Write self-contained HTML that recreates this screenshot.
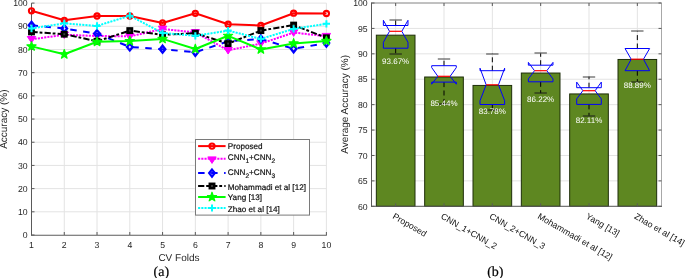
<!DOCTYPE html>
<html><head><meta charset="utf-8"><style>
html,body{margin:0;padding:0;background:#fff;width:685px;height:278px;overflow:hidden}
svg{display:block;will-change:transform}
text{font-family:"Liberation Sans", sans-serif;text-rendering:geometricPrecision;stroke-width:0.2px}
</style></head><body>
<svg width="685" height="278" viewBox="0 0 685 278">
<line x1="31.50" y1="3.1" x2="31.50" y2="235.0" stroke="#e3e3e3" stroke-width="1"/>
<line x1="64.27" y1="3.1" x2="64.27" y2="235.0" stroke="#e3e3e3" stroke-width="1"/>
<line x1="97.03" y1="3.1" x2="97.03" y2="235.0" stroke="#e3e3e3" stroke-width="1"/>
<line x1="129.80" y1="3.1" x2="129.80" y2="235.0" stroke="#e3e3e3" stroke-width="1"/>
<line x1="162.57" y1="3.1" x2="162.57" y2="235.0" stroke="#e3e3e3" stroke-width="1"/>
<line x1="195.33" y1="3.1" x2="195.33" y2="235.0" stroke="#e3e3e3" stroke-width="1"/>
<line x1="228.10" y1="3.1" x2="228.10" y2="235.0" stroke="#e3e3e3" stroke-width="1"/>
<line x1="260.87" y1="3.1" x2="260.87" y2="235.0" stroke="#e3e3e3" stroke-width="1"/>
<line x1="293.63" y1="3.1" x2="293.63" y2="235.0" stroke="#e3e3e3" stroke-width="1"/>
<line x1="326.40" y1="3.1" x2="326.40" y2="235.0" stroke="#e3e3e3" stroke-width="1"/>
<line x1="31.5" y1="235.00" x2="326.4" y2="235.00" stroke="#e3e3e3" stroke-width="1"/>
<line x1="31.5" y1="211.81" x2="326.4" y2="211.81" stroke="#e3e3e3" stroke-width="1"/>
<line x1="31.5" y1="188.62" x2="326.4" y2="188.62" stroke="#e3e3e3" stroke-width="1"/>
<line x1="31.5" y1="165.43" x2="326.4" y2="165.43" stroke="#e3e3e3" stroke-width="1"/>
<line x1="31.5" y1="142.24" x2="326.4" y2="142.24" stroke="#e3e3e3" stroke-width="1"/>
<line x1="31.5" y1="119.05" x2="326.4" y2="119.05" stroke="#e3e3e3" stroke-width="1"/>
<line x1="31.5" y1="95.86" x2="326.4" y2="95.86" stroke="#e3e3e3" stroke-width="1"/>
<line x1="31.5" y1="72.67" x2="326.4" y2="72.67" stroke="#e3e3e3" stroke-width="1"/>
<line x1="31.5" y1="49.48" x2="326.4" y2="49.48" stroke="#e3e3e3" stroke-width="1"/>
<line x1="31.5" y1="26.29" x2="326.4" y2="26.29" stroke="#e3e3e3" stroke-width="1"/>
<line x1="31.5" y1="3.10" x2="326.4" y2="3.10" stroke="#e3e3e3" stroke-width="1"/>
<line x1="31.5" y1="3.1" x2="31.5" y2="235.5" stroke="#5a5a5a" stroke-width="1"/>
<line x1="31.0" y1="235.3" x2="326.9" y2="235.3" stroke="#6a6a6a" stroke-width="1"/>
<line x1="31.5" y1="235.00" x2="34.5" y2="235.00" stroke="#5a5a5a" stroke-width="1"/>
<text x="27.7" y="238.20" text-anchor="end" font-size="8.7" fill="#262626">0</text>
<line x1="31.5" y1="211.81" x2="34.5" y2="211.81" stroke="#5a5a5a" stroke-width="1"/>
<text x="27.7" y="215.01" text-anchor="end" font-size="8.7" fill="#262626">10</text>
<line x1="31.5" y1="188.62" x2="34.5" y2="188.62" stroke="#5a5a5a" stroke-width="1"/>
<text x="27.7" y="191.82" text-anchor="end" font-size="8.7" fill="#262626">20</text>
<line x1="31.5" y1="165.43" x2="34.5" y2="165.43" stroke="#5a5a5a" stroke-width="1"/>
<text x="27.7" y="168.63" text-anchor="end" font-size="8.7" fill="#262626">30</text>
<line x1="31.5" y1="142.24" x2="34.5" y2="142.24" stroke="#5a5a5a" stroke-width="1"/>
<text x="27.7" y="145.44" text-anchor="end" font-size="8.7" fill="#262626">40</text>
<line x1="31.5" y1="119.05" x2="34.5" y2="119.05" stroke="#5a5a5a" stroke-width="1"/>
<text x="27.7" y="122.25" text-anchor="end" font-size="8.7" fill="#262626">50</text>
<line x1="31.5" y1="95.86" x2="34.5" y2="95.86" stroke="#5a5a5a" stroke-width="1"/>
<text x="27.7" y="99.06" text-anchor="end" font-size="8.7" fill="#262626">60</text>
<line x1="31.5" y1="72.67" x2="34.5" y2="72.67" stroke="#5a5a5a" stroke-width="1"/>
<text x="27.7" y="75.87" text-anchor="end" font-size="8.7" fill="#262626">70</text>
<line x1="31.5" y1="49.48" x2="34.5" y2="49.48" stroke="#5a5a5a" stroke-width="1"/>
<text x="27.7" y="52.68" text-anchor="end" font-size="8.7" fill="#262626">80</text>
<line x1="31.5" y1="26.29" x2="34.5" y2="26.29" stroke="#5a5a5a" stroke-width="1"/>
<text x="27.7" y="29.49" text-anchor="end" font-size="8.7" fill="#262626">90</text>
<line x1="31.5" y1="3.10" x2="34.5" y2="3.10" stroke="#5a5a5a" stroke-width="1"/>
<text x="27.7" y="6.30" text-anchor="end" font-size="8.7" fill="#262626">100</text>
<line x1="31.50" y1="235.0" x2="31.50" y2="232.0" stroke="#5a5a5a" stroke-width="1"/>
<text x="31.50" y="247.7" text-anchor="middle" font-size="8.7" fill="#262626">1</text>
<line x1="64.27" y1="235.0" x2="64.27" y2="232.0" stroke="#5a5a5a" stroke-width="1"/>
<text x="64.27" y="247.7" text-anchor="middle" font-size="8.7" fill="#262626">2</text>
<line x1="97.03" y1="235.0" x2="97.03" y2="232.0" stroke="#5a5a5a" stroke-width="1"/>
<text x="97.03" y="247.7" text-anchor="middle" font-size="8.7" fill="#262626">3</text>
<line x1="129.80" y1="235.0" x2="129.80" y2="232.0" stroke="#5a5a5a" stroke-width="1"/>
<text x="129.80" y="247.7" text-anchor="middle" font-size="8.7" fill="#262626">4</text>
<line x1="162.57" y1="235.0" x2="162.57" y2="232.0" stroke="#5a5a5a" stroke-width="1"/>
<text x="162.57" y="247.7" text-anchor="middle" font-size="8.7" fill="#262626">5</text>
<line x1="195.33" y1="235.0" x2="195.33" y2="232.0" stroke="#5a5a5a" stroke-width="1"/>
<text x="195.33" y="247.7" text-anchor="middle" font-size="8.7" fill="#262626">6</text>
<line x1="228.10" y1="235.0" x2="228.10" y2="232.0" stroke="#5a5a5a" stroke-width="1"/>
<text x="228.10" y="247.7" text-anchor="middle" font-size="8.7" fill="#262626">7</text>
<line x1="260.87" y1="235.0" x2="260.87" y2="232.0" stroke="#5a5a5a" stroke-width="1"/>
<text x="260.87" y="247.7" text-anchor="middle" font-size="8.7" fill="#262626">8</text>
<line x1="293.63" y1="235.0" x2="293.63" y2="232.0" stroke="#5a5a5a" stroke-width="1"/>
<text x="293.63" y="247.7" text-anchor="middle" font-size="8.7" fill="#262626">9</text>
<line x1="326.40" y1="235.0" x2="326.40" y2="232.0" stroke="#5a5a5a" stroke-width="1"/>
<text x="326.40" y="247.7" text-anchor="middle" font-size="8.7" fill="#262626">10</text>
<text x="178.95" y="261.3" text-anchor="middle" font-size="10" fill="#262626">CV Folds</text>
<text transform="translate(7.3,119.15) rotate(-90)" text-anchor="middle" font-size="10" fill="#262626">Accuracy (%)</text>
<text x="161.3" y="275.8" text-anchor="middle" style="font-family:'Liberation Serif', serif" font-size="14" fill="#000" stroke="#000">(a)</text>
<g>
<polyline points="31.50,10.80 64.27,20.30 97.03,16.00 129.80,16.00 162.57,23.00 195.33,13.30 228.10,24.20 260.87,25.50 293.63,13.20 326.40,13.50" fill="none" stroke="#ff0000" stroke-width="2" stroke-linejoin="round"/>
<circle cx="31.50" cy="10.80" r="2.6" fill="none" stroke="#ff0000" stroke-width="2.1"/>
<circle cx="64.27" cy="20.30" r="2.6" fill="none" stroke="#ff0000" stroke-width="2.1"/>
<circle cx="97.03" cy="16.00" r="2.6" fill="none" stroke="#ff0000" stroke-width="2.1"/>
<circle cx="129.80" cy="16.00" r="2.6" fill="none" stroke="#ff0000" stroke-width="2.1"/>
<circle cx="162.57" cy="23.00" r="2.6" fill="none" stroke="#ff0000" stroke-width="2.1"/>
<circle cx="195.33" cy="13.30" r="2.6" fill="none" stroke="#ff0000" stroke-width="2.1"/>
<circle cx="228.10" cy="24.20" r="2.6" fill="none" stroke="#ff0000" stroke-width="2.1"/>
<circle cx="260.87" cy="25.50" r="2.6" fill="none" stroke="#ff0000" stroke-width="2.1"/>
<circle cx="293.63" cy="13.20" r="2.6" fill="none" stroke="#ff0000" stroke-width="2.1"/>
<circle cx="326.40" cy="13.50" r="2.6" fill="none" stroke="#ff0000" stroke-width="2.1"/>
<polyline points="31.50,39.30 64.27,34.80 97.03,36.00 129.80,36.40 162.57,29.00 195.33,32.40 228.10,50.30 260.87,43.60 293.63,32.60 326.40,36.20" fill="none" stroke="#ff00ff" stroke-width="2" stroke-dasharray="2.1 1.1" stroke-linejoin="round"/>
<path d="M27.30,36.50 L35.70,36.50 L31.50,43.00Z" fill="#ff00ff" stroke="#ff00ff" stroke-width="1" stroke-linejoin="round"/>
<path d="M60.07,32.00 L68.47,32.00 L64.27,38.50Z" fill="#ff00ff" stroke="#ff00ff" stroke-width="1" stroke-linejoin="round"/>
<path d="M92.83,33.20 L101.23,33.20 L97.03,39.70Z" fill="#ff00ff" stroke="#ff00ff" stroke-width="1" stroke-linejoin="round"/>
<path d="M125.60,33.60 L134.00,33.60 L129.80,40.10Z" fill="#ff00ff" stroke="#ff00ff" stroke-width="1" stroke-linejoin="round"/>
<path d="M158.37,26.20 L166.77,26.20 L162.57,32.70Z" fill="#ff00ff" stroke="#ff00ff" stroke-width="1" stroke-linejoin="round"/>
<path d="M191.13,29.60 L199.53,29.60 L195.33,36.10Z" fill="#ff00ff" stroke="#ff00ff" stroke-width="1" stroke-linejoin="round"/>
<path d="M223.90,47.50 L232.30,47.50 L228.10,54.00Z" fill="#ff00ff" stroke="#ff00ff" stroke-width="1" stroke-linejoin="round"/>
<path d="M256.67,40.80 L265.07,40.80 L260.87,47.30Z" fill="#ff00ff" stroke="#ff00ff" stroke-width="1" stroke-linejoin="round"/>
<path d="M289.43,29.80 L297.83,29.80 L293.63,36.30Z" fill="#ff00ff" stroke="#ff00ff" stroke-width="1" stroke-linejoin="round"/>
<path d="M322.20,33.40 L330.60,33.40 L326.40,39.90Z" fill="#ff00ff" stroke="#ff00ff" stroke-width="1" stroke-linejoin="round"/>
<polyline points="31.50,25.30 64.27,28.50 97.03,33.60 129.80,47.00 162.57,49.20 195.33,52.30 228.10,41.30 260.87,38.90 293.63,48.80 326.40,43.10" fill="none" stroke="#0000ff" stroke-width="2" stroke-dasharray="6.5 6.5" stroke-linejoin="round"/>
<path d="M31.50,21.80 L34.30,25.30 L31.50,28.80 L28.70,25.30Z" fill="none" stroke="#0000ff" stroke-width="2.3"/>
<path d="M64.27,25.00 L67.07,28.50 L64.27,32.00 L61.47,28.50Z" fill="none" stroke="#0000ff" stroke-width="2.3"/>
<path d="M97.03,30.10 L99.83,33.60 L97.03,37.10 L94.23,33.60Z" fill="none" stroke="#0000ff" stroke-width="2.3"/>
<path d="M129.80,43.50 L132.60,47.00 L129.80,50.50 L127.00,47.00Z" fill="none" stroke="#0000ff" stroke-width="2.3"/>
<path d="M162.57,45.70 L165.37,49.20 L162.57,52.70 L159.77,49.20Z" fill="none" stroke="#0000ff" stroke-width="2.3"/>
<path d="M195.33,48.80 L198.13,52.30 L195.33,55.80 L192.53,52.30Z" fill="none" stroke="#0000ff" stroke-width="2.3"/>
<path d="M228.10,37.80 L230.90,41.30 L228.10,44.80 L225.30,41.30Z" fill="none" stroke="#0000ff" stroke-width="2.3"/>
<path d="M260.87,35.40 L263.67,38.90 L260.87,42.40 L258.07,38.90Z" fill="none" stroke="#0000ff" stroke-width="2.3"/>
<path d="M293.63,45.30 L296.43,48.80 L293.63,52.30 L290.83,48.80Z" fill="none" stroke="#0000ff" stroke-width="2.3"/>
<path d="M326.40,39.60 L329.20,43.10 L326.40,46.60 L323.60,43.10Z" fill="none" stroke="#0000ff" stroke-width="2.3"/>
<polyline points="31.50,31.90 64.27,34.20 97.03,41.30 129.80,30.60 162.57,34.80 195.33,33.20 228.10,43.60 260.87,30.60 293.63,25.10 326.40,37.80" fill="none" stroke="#000000" stroke-width="2" stroke-dasharray="6.2 1.9 2.8 2.2" stroke-linejoin="round"/>
<rect x="29.30" y="29.70" width="4.40" height="4.40" fill="#3a3a3a" stroke="#000000" stroke-width="2.5"/>
<rect x="62.07" y="32.00" width="4.40" height="4.40" fill="#3a3a3a" stroke="#000000" stroke-width="2.5"/>
<rect x="94.83" y="39.10" width="4.40" height="4.40" fill="#3a3a3a" stroke="#000000" stroke-width="2.5"/>
<rect x="127.60" y="28.40" width="4.40" height="4.40" fill="#3a3a3a" stroke="#000000" stroke-width="2.5"/>
<rect x="160.37" y="32.60" width="4.40" height="4.40" fill="#3a3a3a" stroke="#000000" stroke-width="2.5"/>
<rect x="193.13" y="31.00" width="4.40" height="4.40" fill="#3a3a3a" stroke="#000000" stroke-width="2.5"/>
<rect x="225.90" y="41.40" width="4.40" height="4.40" fill="#3a3a3a" stroke="#000000" stroke-width="2.5"/>
<rect x="258.67" y="28.40" width="4.40" height="4.40" fill="#3a3a3a" stroke="#000000" stroke-width="2.5"/>
<rect x="291.43" y="22.90" width="4.40" height="4.40" fill="#3a3a3a" stroke="#000000" stroke-width="2.5"/>
<rect x="324.20" y="35.60" width="4.40" height="4.40" fill="#3a3a3a" stroke="#000000" stroke-width="2.5"/>
<polyline points="31.50,46.40 64.27,54.30 97.03,41.80 129.80,41.10 162.57,38.90 195.33,49.00 228.10,35.80 260.87,49.40 293.63,43.40 326.40,40.90" fill="none" stroke="#00ff00" stroke-width="2" stroke-linejoin="round"/>
<polygon points="31.50,41.60 32.63,44.85 36.07,44.92 33.33,46.99 34.32,50.28 31.50,48.32 28.68,50.28 29.67,46.99 26.93,44.92 30.37,44.85" fill="#00ff00" stroke="#00ff00" stroke-width="1.2" stroke-linejoin="round"/>
<polygon points="64.27,49.50 65.40,52.75 68.83,52.82 66.09,54.89 67.09,58.18 64.27,56.22 61.45,58.18 62.44,54.89 59.70,52.82 63.14,52.75" fill="#00ff00" stroke="#00ff00" stroke-width="1.2" stroke-linejoin="round"/>
<polygon points="97.03,37.00 98.16,40.25 101.60,40.32 98.86,42.39 99.85,45.68 97.03,43.72 94.21,45.68 95.21,42.39 92.47,40.32 95.90,40.25" fill="#00ff00" stroke="#00ff00" stroke-width="1.2" stroke-linejoin="round"/>
<polygon points="129.80,36.30 130.93,39.55 134.37,39.62 131.63,41.69 132.62,44.98 129.80,43.02 126.98,44.98 127.97,41.69 125.23,39.62 128.67,39.55" fill="#00ff00" stroke="#00ff00" stroke-width="1.2" stroke-linejoin="round"/>
<polygon points="162.57,34.10 163.70,37.35 167.13,37.42 164.39,39.49 165.39,42.78 162.57,40.82 159.75,42.78 160.74,39.49 158.00,37.42 161.44,37.35" fill="#00ff00" stroke="#00ff00" stroke-width="1.2" stroke-linejoin="round"/>
<polygon points="195.33,44.20 196.46,47.45 199.90,47.52 197.16,49.59 198.15,52.88 195.33,50.92 192.51,52.88 193.51,49.59 190.77,47.52 194.20,47.45" fill="#00ff00" stroke="#00ff00" stroke-width="1.2" stroke-linejoin="round"/>
<polygon points="228.10,31.00 229.23,34.25 232.67,34.32 229.93,36.39 230.92,39.68 228.10,37.72 225.28,39.68 226.27,36.39 223.53,34.32 226.97,34.25" fill="#00ff00" stroke="#00ff00" stroke-width="1.2" stroke-linejoin="round"/>
<polygon points="260.87,44.60 262.00,47.85 265.43,47.92 262.69,49.99 263.69,53.28 260.87,51.32 258.05,53.28 259.04,49.99 256.30,47.92 259.74,47.85" fill="#00ff00" stroke="#00ff00" stroke-width="1.2" stroke-linejoin="round"/>
<polygon points="293.63,38.60 294.76,41.85 298.20,41.92 295.46,43.99 296.45,47.28 293.63,45.32 290.81,47.28 291.81,43.99 289.07,41.92 292.50,41.85" fill="#00ff00" stroke="#00ff00" stroke-width="1.2" stroke-linejoin="round"/>
<polygon points="326.40,36.10 327.53,39.35 330.97,39.42 328.23,41.49 329.22,44.78 326.40,42.82 323.58,44.78 324.57,41.49 321.83,39.42 325.27,39.35" fill="#00ff00" stroke="#00ff00" stroke-width="1.2" stroke-linejoin="round"/>
<polyline points="31.50,28.40 64.27,23.30 97.03,25.90 129.80,15.70 162.57,33.00 195.33,35.80 228.10,30.60 260.87,38.90 293.63,28.90 326.40,23.80" fill="none" stroke="#00ffff" stroke-width="2" stroke-dasharray="2.1 1.1" stroke-linejoin="round"/>
<path d="M27.90,28.40 H35.10 M31.50,24.80 V32.00" stroke="#00ffff" stroke-width="2"/>
<path d="M60.67,23.30 H67.87 M64.27,19.70 V26.90" stroke="#00ffff" stroke-width="2"/>
<path d="M93.43,25.90 H100.63 M97.03,22.30 V29.50" stroke="#00ffff" stroke-width="2"/>
<path d="M126.20,15.70 H133.40 M129.80,12.10 V19.30" stroke="#00ffff" stroke-width="2"/>
<path d="M158.97,33.00 H166.17 M162.57,29.40 V36.60" stroke="#00ffff" stroke-width="2"/>
<path d="M191.73,35.80 H198.93 M195.33,32.20 V39.40" stroke="#00ffff" stroke-width="2"/>
<path d="M224.50,30.60 H231.70 M228.10,27.00 V34.20" stroke="#00ffff" stroke-width="2"/>
<path d="M257.27,38.90 H264.47 M260.87,35.30 V42.50" stroke="#00ffff" stroke-width="2"/>
<path d="M290.03,28.90 H297.23 M293.63,25.30 V32.50" stroke="#00ffff" stroke-width="2"/>
<path d="M322.80,23.80 H330.00 M326.40,20.20 V27.40" stroke="#00ffff" stroke-width="2"/>
</g>
<rect x="195.5" y="139.5" width="114" height="75.6" fill="#fff" stroke="#7a7a7a" stroke-width="1"/>
<line x1="198.1" y1="146.1" x2="225.6" y2="146.1" stroke="#ff0000" stroke-width="2"/>
<circle cx="212.00" cy="146.10" r="2.6" fill="none" stroke="#ff0000" stroke-width="2.1"/>
<text x="227.8" y="148.70" font-size="8.15" fill="#111111" stroke="#111111">Proposed</text>
<line x1="198.1" y1="158.7" x2="225.6" y2="158.7" stroke="#ff00ff" stroke-width="2" stroke-dasharray="2.1 1.1"/>
<path d="M207.80,156.90 L216.20,156.90 L212.00,163.40Z" fill="#ff00ff" stroke="#ff00ff" stroke-width="1" stroke-linejoin="round"/>
<text x="227.8" y="160.00" font-size="8.15" fill="#111111" stroke="#111111">CNN<tspan dy="3" font-size="6.6">1</tspan><tspan dy="-3">+CNN</tspan><tspan dy="3" font-size="6.6">2</tspan></text>
<line x1="198.1" y1="173.1" x2="225.6" y2="173.1" stroke="#0000ff" stroke-width="2" stroke-dasharray="6.5 6.5"/>
<path d="M212.00,169.60 L214.80,173.10 L212.00,176.60 L209.20,173.10Z" fill="none" stroke="#0000ff" stroke-width="2.3"/>
<text x="227.8" y="174.70" font-size="8.15" fill="#111111" stroke="#111111">CNN<tspan dy="3" font-size="6.6">2</tspan><tspan dy="-3">+CNN</tspan><tspan dy="3" font-size="6.6">3</tspan></text>
<line x1="198.1" y1="186.0" x2="225.6" y2="186.0" stroke="#000000" stroke-width="2" stroke-dasharray="6.2 1.9 2.8 2.2"/>
<rect x="209.80" y="183.80" width="4.40" height="4.40" fill="#3a3a3a" stroke="#000000" stroke-width="2.5"/>
<text x="227.8" y="189.60" font-size="8.15" fill="#111111" stroke="#111111">Mohammadi et al [12]</text>
<line x1="198.1" y1="197.0" x2="225.6" y2="197.0" stroke="#00ff00" stroke-width="2"/>
<polygon points="212.00,192.20 213.13,195.45 216.57,195.52 213.83,197.59 214.82,200.88 212.00,198.92 209.18,200.88 210.17,197.59 207.43,195.52 210.87,195.45" fill="#00ff00" stroke="#00ff00" stroke-width="1.2" stroke-linejoin="round"/>
<text x="227.8" y="200.10" font-size="8.15" fill="#111111" stroke="#111111">Yang [13]</text>
<line x1="198.1" y1="208.0" x2="225.6" y2="208.0" stroke="#00ffff" stroke-width="2" stroke-dasharray="2.1 1.1"/>
<path d="M208.40,208.00 H215.60 M212.00,204.40 V211.60" stroke="#00ffff" stroke-width="2"/>
<text x="227.8" y="211.60" font-size="8.15" fill="#111111" stroke="#111111">Zhao et al [14]</text>
<line x1="395.67" y1="3.0" x2="395.67" y2="206.3" stroke="#e3e3e3" stroke-width="1"/>
<line x1="444.00" y1="3.0" x2="444.00" y2="206.3" stroke="#e3e3e3" stroke-width="1"/>
<line x1="492.33" y1="3.0" x2="492.33" y2="206.3" stroke="#e3e3e3" stroke-width="1"/>
<line x1="540.67" y1="3.0" x2="540.67" y2="206.3" stroke="#e3e3e3" stroke-width="1"/>
<line x1="589.00" y1="3.0" x2="589.00" y2="206.3" stroke="#e3e3e3" stroke-width="1"/>
<line x1="637.33" y1="3.0" x2="637.33" y2="206.3" stroke="#e3e3e3" stroke-width="1"/>
<line x1="371.5" y1="206.30" x2="661.5" y2="206.30" stroke="#e3e3e3" stroke-width="1"/>
<line x1="371.5" y1="180.89" x2="661.5" y2="180.89" stroke="#e3e3e3" stroke-width="1"/>
<line x1="371.5" y1="155.48" x2="661.5" y2="155.48" stroke="#e3e3e3" stroke-width="1"/>
<line x1="371.5" y1="130.06" x2="661.5" y2="130.06" stroke="#e3e3e3" stroke-width="1"/>
<line x1="371.5" y1="104.65" x2="661.5" y2="104.65" stroke="#e3e3e3" stroke-width="1"/>
<line x1="371.5" y1="79.24" x2="661.5" y2="79.24" stroke="#e3e3e3" stroke-width="1"/>
<line x1="371.5" y1="53.83" x2="661.5" y2="53.83" stroke="#e3e3e3" stroke-width="1"/>
<line x1="371.5" y1="28.41" x2="661.5" y2="28.41" stroke="#e3e3e3" stroke-width="1"/>
<line x1="371.5" y1="3.00" x2="661.5" y2="3.00" stroke="#e3e3e3" stroke-width="1"/>
<rect x="376.33" y="35.17" width="38.67" height="171.13" fill="#5e8721" stroke="#1e2e0a" stroke-width="1"/>
<rect x="424.67" y="77.00" width="38.67" height="129.30" fill="#5e8721" stroke="#1e2e0a" stroke-width="1"/>
<rect x="473.00" y="85.44" width="38.67" height="120.86" fill="#5e8721" stroke="#1e2e0a" stroke-width="1"/>
<rect x="521.33" y="73.04" width="38.67" height="133.26" fill="#5e8721" stroke="#1e2e0a" stroke-width="1"/>
<rect x="569.67" y="93.93" width="38.67" height="112.37" fill="#5e8721" stroke="#1e2e0a" stroke-width="1"/>
<rect x="618.00" y="59.47" width="38.67" height="146.83" fill="#5e8721" stroke="#1e2e0a" stroke-width="1"/>
<line x1="371.5" y1="3.0" x2="661.5" y2="3.0" stroke="#909090" stroke-width="1"/>
<line x1="661.5" y1="3.0" x2="661.5" y2="206.3" stroke="#a8a8a8" stroke-width="1"/>
<line x1="371.5" y1="2.5" x2="371.5" y2="206.8" stroke="#5a5a5a" stroke-width="1"/>
<line x1="371.0" y1="206.3" x2="662.0" y2="206.3" stroke="#5a5a5a" stroke-width="1"/>
<line x1="371.5" y1="206.30" x2="374.5" y2="206.30" stroke="#5a5a5a" stroke-width="1"/>
<line x1="661.5" y1="206.30" x2="658.5" y2="206.30" stroke="#5a5a5a" stroke-width="1"/>
<text x="367.7" y="209.50" text-anchor="end" font-size="8.7" fill="#262626">60</text>
<line x1="371.5" y1="180.89" x2="374.5" y2="180.89" stroke="#5a5a5a" stroke-width="1"/>
<line x1="661.5" y1="180.89" x2="658.5" y2="180.89" stroke="#5a5a5a" stroke-width="1"/>
<text x="367.7" y="184.09" text-anchor="end" font-size="8.7" fill="#262626">65</text>
<line x1="371.5" y1="155.48" x2="374.5" y2="155.48" stroke="#5a5a5a" stroke-width="1"/>
<line x1="661.5" y1="155.48" x2="658.5" y2="155.48" stroke="#5a5a5a" stroke-width="1"/>
<text x="367.7" y="158.68" text-anchor="end" font-size="8.7" fill="#262626">70</text>
<line x1="371.5" y1="130.06" x2="374.5" y2="130.06" stroke="#5a5a5a" stroke-width="1"/>
<line x1="661.5" y1="130.06" x2="658.5" y2="130.06" stroke="#5a5a5a" stroke-width="1"/>
<text x="367.7" y="133.26" text-anchor="end" font-size="8.7" fill="#262626">75</text>
<line x1="371.5" y1="104.65" x2="374.5" y2="104.65" stroke="#5a5a5a" stroke-width="1"/>
<line x1="661.5" y1="104.65" x2="658.5" y2="104.65" stroke="#5a5a5a" stroke-width="1"/>
<text x="367.7" y="107.85" text-anchor="end" font-size="8.7" fill="#262626">80</text>
<line x1="371.5" y1="79.24" x2="374.5" y2="79.24" stroke="#5a5a5a" stroke-width="1"/>
<line x1="661.5" y1="79.24" x2="658.5" y2="79.24" stroke="#5a5a5a" stroke-width="1"/>
<text x="367.7" y="82.44" text-anchor="end" font-size="8.7" fill="#262626">85</text>
<line x1="371.5" y1="53.83" x2="374.5" y2="53.83" stroke="#5a5a5a" stroke-width="1"/>
<line x1="661.5" y1="53.83" x2="658.5" y2="53.83" stroke="#5a5a5a" stroke-width="1"/>
<text x="367.7" y="57.03" text-anchor="end" font-size="8.7" fill="#262626">90</text>
<line x1="371.5" y1="28.41" x2="374.5" y2="28.41" stroke="#5a5a5a" stroke-width="1"/>
<line x1="661.5" y1="28.41" x2="658.5" y2="28.41" stroke="#5a5a5a" stroke-width="1"/>
<text x="367.7" y="31.61" text-anchor="end" font-size="8.7" fill="#262626">95</text>
<line x1="371.5" y1="3.00" x2="374.5" y2="3.00" stroke="#5a5a5a" stroke-width="1"/>
<line x1="661.5" y1="3.00" x2="658.5" y2="3.00" stroke="#5a5a5a" stroke-width="1"/>
<text x="367.7" y="6.20" text-anchor="end" font-size="8.7" fill="#262626">100</text>
<line x1="395.67" y1="206.3" x2="395.67" y2="203.3" stroke="#5a5a5a" stroke-width="1"/>
<line x1="395.67" y1="3.0" x2="395.67" y2="6.0" stroke="#5a5a5a" stroke-width="1"/>
<line x1="444.00" y1="206.3" x2="444.00" y2="203.3" stroke="#5a5a5a" stroke-width="1"/>
<line x1="444.00" y1="3.0" x2="444.00" y2="6.0" stroke="#5a5a5a" stroke-width="1"/>
<line x1="492.33" y1="206.3" x2="492.33" y2="203.3" stroke="#5a5a5a" stroke-width="1"/>
<line x1="492.33" y1="3.0" x2="492.33" y2="6.0" stroke="#5a5a5a" stroke-width="1"/>
<line x1="540.67" y1="206.3" x2="540.67" y2="203.3" stroke="#5a5a5a" stroke-width="1"/>
<line x1="540.67" y1="3.0" x2="540.67" y2="6.0" stroke="#5a5a5a" stroke-width="1"/>
<line x1="589.00" y1="206.3" x2="589.00" y2="203.3" stroke="#5a5a5a" stroke-width="1"/>
<line x1="589.00" y1="3.0" x2="589.00" y2="6.0" stroke="#5a5a5a" stroke-width="1"/>
<line x1="637.33" y1="206.3" x2="637.33" y2="203.3" stroke="#5a5a5a" stroke-width="1"/>
<line x1="637.33" y1="3.0" x2="637.33" y2="6.0" stroke="#5a5a5a" stroke-width="1"/>
<line x1="395.67" y1="25.5" x2="395.67" y2="19.9" stroke="#000" stroke-width="1" stroke-dasharray="5 3.4"/>
<line x1="395.67" y1="48.2" x2="395.67" y2="53.5" stroke="#000" stroke-width="1" stroke-dasharray="5 3.4"/>
<line x1="389.47" y1="20" x2="401.87" y2="20" stroke="#3a3a3a" stroke-width="1"/>
<line x1="389.47" y1="54" x2="401.87" y2="54" stroke="#1a1a1a" stroke-width="1"/>
<polygon points="383.37,48.20 383.37,42.30 389.52,31.30 383.37,20.30 383.37,25.50 407.97,25.50 407.97,20.30 401.82,31.30 407.97,42.30 407.97,48.20" fill="none" stroke="#0000ff" stroke-width="1"/>
<line x1="389.52" y1="31.3" x2="401.82" y2="31.3" stroke="#ff0000" stroke-width="1.2"/>
<line x1="444.00" y1="65.7" x2="444.00" y2="59.4" stroke="#000" stroke-width="1" stroke-dasharray="5 3.4"/>
<line x1="444.00" y1="82.1" x2="444.00" y2="104.3" stroke="#000" stroke-width="1" stroke-dasharray="5 3.4"/>
<line x1="437.80" y1="59" x2="450.20" y2="59" stroke="#3a3a3a" stroke-width="1"/>
<line x1="437.80" y1="104" x2="450.20" y2="104" stroke="#1a1a1a" stroke-width="1"/>
<polygon points="431.70,82.10 431.70,84.20 437.85,76.30 431.70,67.60 431.70,65.70 456.30,65.70 456.30,67.60 450.15,76.30 456.30,84.20 456.30,82.10" fill="none" stroke="#0000ff" stroke-width="1"/>
<line x1="437.85" y1="76.3" x2="450.15" y2="76.3" stroke="#ff0000" stroke-width="1.2"/>
<line x1="492.33" y1="70.7" x2="492.33" y2="53.6" stroke="#000" stroke-width="1" stroke-dasharray="5 3.4"/>
<line x1="492.33" y1="104.5" x2="492.33" y2="110.2" stroke="#000" stroke-width="1" stroke-dasharray="5 3.4"/>
<line x1="486.13" y1="54" x2="498.53" y2="54" stroke="#3a3a3a" stroke-width="1"/>
<line x1="486.13" y1="110" x2="498.53" y2="110" stroke="#1a1a1a" stroke-width="1"/>
<polygon points="480.03,104.50 480.03,100.70 486.18,84.80 480.03,68.20 480.03,70.70 504.63,70.70 504.63,68.20 498.48,84.80 504.63,100.70 504.63,104.50" fill="none" stroke="#0000ff" stroke-width="1"/>
<line x1="486.18" y1="84.8" x2="498.48" y2="84.8" stroke="#ff0000" stroke-width="1.2"/>
<line x1="540.67" y1="65.2" x2="540.67" y2="53.3" stroke="#000" stroke-width="1" stroke-dasharray="5 3.4"/>
<line x1="540.67" y1="81.8" x2="540.67" y2="93.2" stroke="#000" stroke-width="1" stroke-dasharray="5 3.4"/>
<line x1="534.47" y1="53" x2="546.87" y2="53" stroke="#3a3a3a" stroke-width="1"/>
<line x1="534.47" y1="93" x2="546.87" y2="93" stroke="#1a1a1a" stroke-width="1"/>
<polygon points="528.37,81.80 528.37,78.90 534.52,70.70 528.37,62.40 528.37,65.20 552.97,65.20 552.97,62.40 546.82,70.70 552.97,78.90 552.97,81.80" fill="none" stroke="#0000ff" stroke-width="1"/>
<line x1="534.52" y1="70.7" x2="546.82" y2="70.7" stroke="#ff0000" stroke-width="1.2"/>
<line x1="589.00" y1="87.7" x2="589.00" y2="76.6" stroke="#000" stroke-width="1" stroke-dasharray="5 3.4"/>
<line x1="589.00" y1="104.4" x2="589.00" y2="115.7" stroke="#000" stroke-width="1" stroke-dasharray="5 3.4"/>
<line x1="582.80" y1="77" x2="595.20" y2="77" stroke="#3a3a3a" stroke-width="1"/>
<line x1="582.80" y1="116" x2="595.20" y2="116" stroke="#1a1a1a" stroke-width="1"/>
<polygon points="576.70,104.40 576.70,98.90 582.85,90.70 576.70,82.10 576.70,87.70 601.30,87.70 601.30,82.10 595.15,90.70 601.30,98.90 601.30,104.40" fill="none" stroke="#0000ff" stroke-width="1"/>
<line x1="582.85" y1="90.7" x2="595.15" y2="90.7" stroke="#ff0000" stroke-width="1.2"/>
<line x1="637.33" y1="48.5" x2="637.33" y2="31.3" stroke="#000" stroke-width="1" stroke-dasharray="5 3.4"/>
<line x1="637.33" y1="70.7" x2="637.33" y2="81.5" stroke="#000" stroke-width="1" stroke-dasharray="5 3.4"/>
<line x1="631.13" y1="31" x2="643.53" y2="31" stroke="#3a3a3a" stroke-width="1"/>
<line x1="631.13" y1="82" x2="643.53" y2="82" stroke="#1a1a1a" stroke-width="1"/>
<polygon points="625.03,70.70 625.03,70.70 631.18,59.20 625.03,48.50 625.03,48.50 649.63,48.50 649.63,48.50 643.48,59.20 649.63,70.70 649.63,70.70" fill="none" stroke="#0000ff" stroke-width="1"/>
<line x1="631.18" y1="59.2" x2="643.48" y2="59.2" stroke="#ff0000" stroke-width="1.2"/>
<text x="395.67" y="64.18" text-anchor="middle" font-size="8" fill="#fff">93.67%</text>
<text x="444.00" y="106.01" text-anchor="middle" font-size="8" fill="#fff">85.44%</text>
<text x="492.33" y="114.45" text-anchor="middle" font-size="8" fill="#fff">83.78%</text>
<text x="540.67" y="102.05" text-anchor="middle" font-size="8" fill="#fff">86.22%</text>
<text x="589.00" y="122.94" text-anchor="middle" font-size="8" fill="#fff">82.11%</text>
<text x="637.33" y="88.48" text-anchor="middle" font-size="8" fill="#fff">88.89%</text>
<text transform="translate(395.17,212.50) rotate(30)" font-size="8.8" fill="#111111" dominant-baseline="hanging">Proposed</text>
<text transform="translate(443.50,212.50) rotate(30)" font-size="8.8" fill="#111111" dominant-baseline="hanging">CNN_1+CNN_2</text>
<text transform="translate(491.83,212.50) rotate(30)" font-size="8.8" fill="#111111" dominant-baseline="hanging">CNN_2+CNN_3</text>
<text transform="translate(540.17,212.50) rotate(30)" font-size="8.8" fill="#111111" dominant-baseline="hanging">Mohammadi et al [12]</text>
<text transform="translate(588.50,212.50) rotate(30)" font-size="8.8" fill="#111111" dominant-baseline="hanging">Yang [13]</text>
<text transform="translate(636.83,212.50) rotate(30)" font-size="8.8" fill="#111111" dominant-baseline="hanging">Zhao et al [14]</text>
<text transform="translate(348.3,104.30) rotate(-90)" text-anchor="middle" font-size="10" fill="#262626">Average Accuracy (%)</text>
<text x="495.3" y="275.8" text-anchor="middle" style="font-family:'Liberation Serif', serif" font-size="14" fill="#000" stroke="#000">(b)</text>
</svg>
</body></html>
